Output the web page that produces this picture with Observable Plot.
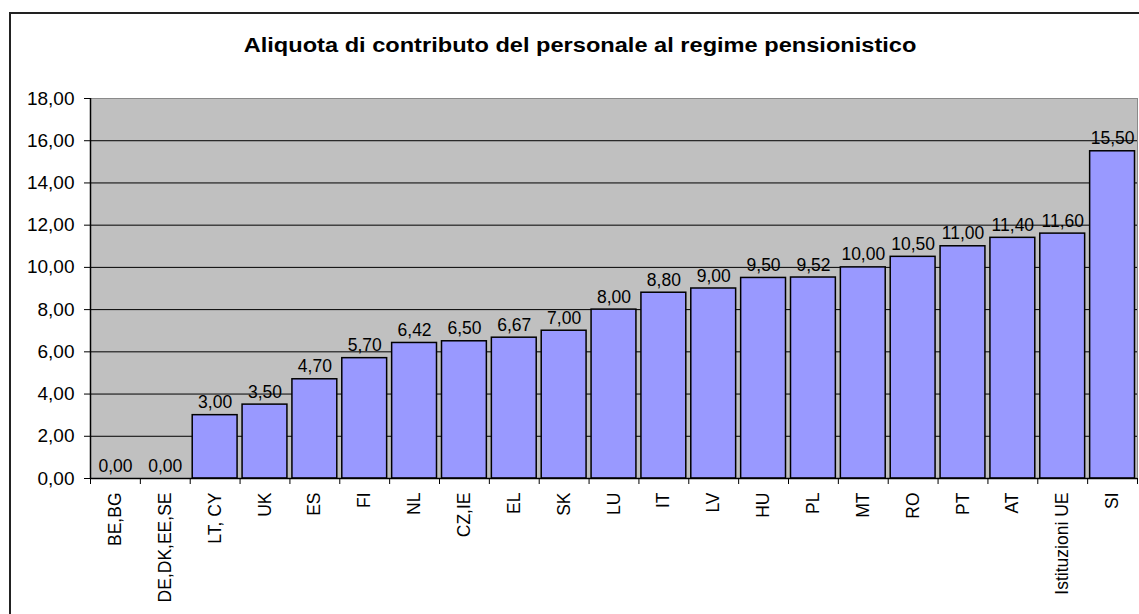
<!DOCTYPE html>
<html>
<head>
<meta charset="utf-8">
<script src="https://cdn.jsdelivr.net/npm/d3@7"></script>
<script src="https://cdn.jsdelivr.net/npm/@observablehq/plot@0.6"></script>
<style>
  html, body { margin: 0; padding: 0; background: white; }
  #wrap { position: relative; width: 1139px; height: 614px; overflow: hidden; font-family: "Liberation Sans", Arial, sans-serif; }
  #border { position: absolute; left: 9px; top: 12px; width: 1300px; height: 800px; border: 2px solid #222; box-sizing: border-box; z-index: 3; pointer-events: none; }
  #title { position: absolute; left: 0; width: 1160px; top: 34px; text-align: center; z-index: 2; }
  #title span { display: inline-block; font-weight: bold; font-size: 20px; color: #000; transform: scaleX(1.18); transform-origin: center; white-space: nowrap; }
  #chart { position: absolute; left: 0; top: 0; z-index: 1; }
</style>
</head>
<body>
<div id="wrap">
  <div id="chart"></div>
  <div id="title"><span>Aliquota di contributo del personale al regime pensionistico</span></div>
  <div id="border"></div>
</div>
<script>
const categories = ["BE,BG","DE,DK,EE,SE","LT, CY","UK","ES","FI","NL","CZ,IE","EL","SK","LU","IT","LV","HU","PL","MT","RO","PT","AT","Istituzioni UE","SI"];
const values = [0, 0, 3.00, 3.50, 4.70, 5.70, 6.42, 6.50, 6.67, 7.00, 8.00, 8.80, 9.00, 9.50, 9.52, 10.00, 10.50, 11.00, 11.40, 11.60, 15.50];
const yTicks = [0, 2, 4, 6, 8, 10, 12, 14, 16, 18];
const gridValues = [2, 4, 6, 8, 10, 12, 14, 16];

const data = categories.map((c, i) => ({cat: c, val: values[i]}));
const fmt = v => d3.format(".2f")(v).replace(".", ",");

const W = 1139, H = 614, mL = 90, mR = 2, mT = 98, mB = 136;
const step = (W - mL - mR) / categories.length;

const plot = Plot.plot({
  width: W,
  height: H,
  marginLeft: mL,
  marginRight: mR,
  marginTop: mT,
  marginBottom: mB,
  style: {background: "transparent", fontFamily: "'Liberation Sans', Arial, sans-serif", color: "#000"},
  x: {domain: categories, padding: 0, round: false, label: null},
  y: {domain: [0, 18], label: null},
  marks: [
    Plot.frame({fill: "#C0C0C0", stroke: "#8a8a8a"}),
    Plot.ruleY(gridValues, {stroke: "#000", strokeWidth: 1}),
    Plot.barY(data, {x: "cat", y: "val", fill: "#9999FF", stroke: "#000", strokeWidth: 1.5, insetLeft: 2.5, insetRight: 2.5}),
    Plot.text(data, {x: "cat", y: "val", text: d => fmt(d.val), lineAnchor: "bottom", dy: -7, fontSize: 17.5, fill: "#000"}),
    Plot.ruleY([0], {stroke: "#000", strokeWidth: 1.5}),
    Plot.ruleX(categories.slice(0, 1), {x: d => d, y1: 0, y2: 18, dx: -step / 2, stroke: "#000", strokeWidth: 1.5}),
    Plot.ruleX(categories, {x: d => d, y1: 0, y2: 0, insetBottom: -6, dx: -step / 2, stroke: "#000", strokeWidth: 1}),
    Plot.ruleX(categories.slice(-1), {x: d => d, y1: 0, y2: 0, insetBottom: -6, dx: step / 2, stroke: "#000", strokeWidth: 1}),
    Plot.axisY({ticks: yTicks, tickFormat: fmt, tickSize: 6, tickPadding: 10, fontSize: 19, stroke: "#000", fill: "#000"}),
    Plot.axisX({tickSize: 0, tickPadding: 14, tickRotate: -90, fontSize: 17.5, fill: "#000"})
  ]
});
document.getElementById("chart").appendChild(plot);
</script>
</body>
</html>
